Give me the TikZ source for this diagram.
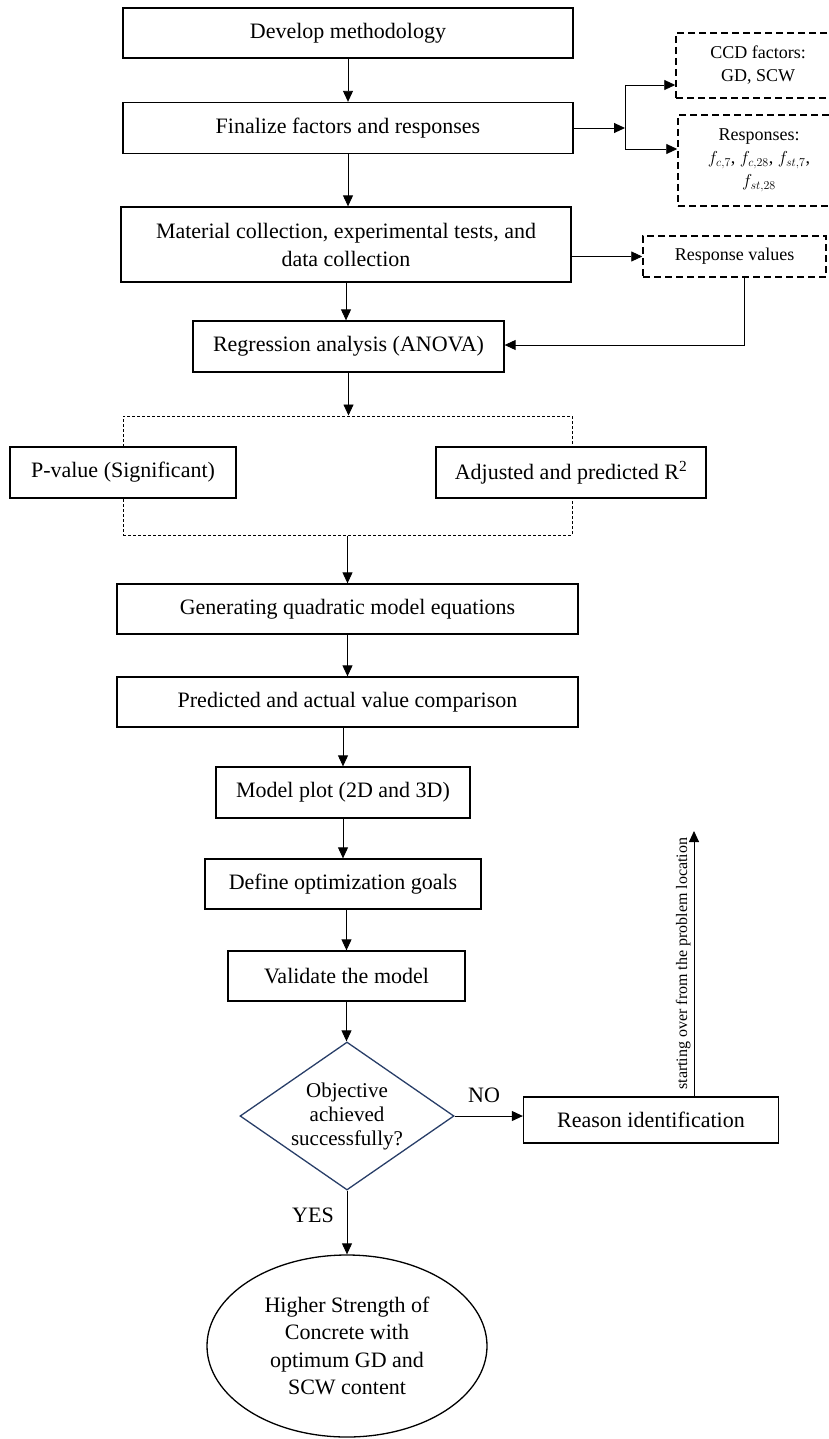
\documentclass[tikz,border=0pt]{standalone}
\usepackage{fontspec}
\setmainfont{Liberation Serif}
\usetikzlibrary{shapes.geometric}
\usetikzlibrary{arrows.meta}
\usepackage{xcolor}

\definecolor{dianavy}{RGB}{40,62,104}

\begin{document}
\begin{tikzpicture}[x=1pt,y=1pt,yscale=-1,xscale=1,
  box/.style={draw, line width=1.3pt, fill=white, minimum width=#1, minimum height=50, inner sep=0pt, align=center, font=\fontsize{22}{28}\selectfont},
  box/.default=450,
  dbox/.style={draw, line width=1.5pt, dash pattern=on 7pt off 4pt, inner sep=0pt, align=center, font=\fontsize{18}{23}\selectfont},
  gbox/.style={draw, line width=1pt, dash pattern=on 3pt off 2pt, inner sep=0pt},
  decision/.style={diamond, draw=dianavy, line width=1.3pt, shape aspect=1.45, minimum width=214, minimum height=148, inner sep=0pt, align=center, font=\fontsize{21}{24}\selectfont},
  goal/.style={ellipse, draw, line width=1.3pt, minimum width=280, minimum height=182, inner sep=0pt, align=center, font=\fontsize{22}{27.3}\selectfont},
  lbl/.style={inner sep=0pt, font=\fontsize{22}{24}\selectfont},
  arr/.style={-{Triangle[length=11pt,width=10pt]}, line width=0.9pt},
  line/.style={line width=0.9pt}
]
%set diagram size to 829 x 1439
\useasboundingbox (0,0) rectangle (829,1439);
\clip (0,0) rectangle (829,1439);

%Shape: Rectangle
\node[box] (dev) at (348,33) {Develop methodology};
%Shape: Rectangle
\node[box, minimum height=51] (fin) at (348,128) {Finalize factors and responses};
%Shape: Dashed Rectangle
\node[dbox, minimum width=164, minimum height=65] (ccd) at (758,65.5) {CCD factors:\\GD, SCW};
%Shape: Dashed Rectangle
\node[dbox, minimum width=162, minimum height=91] (resp) at (759,160.5) {Responses:\\$f_{c,7}$, $f_{c,28}$, $f_{st,7}$,\\$f_{st,28}$};
%Shape: Rectangle
\node[box, minimum height=75] (mat) at (346,244.5) {Material collection, experimental tests, and\\data collection};
%Shape: Dashed Rectangle
\node[dbox, minimum width=183, minimum height=41] (rv) at (734.5,256.5) {Response values};
%Shape: Rectangle
\node[box=311, minimum height=51] (reg) at (348.5,346.5) {Regression analysis (ANOVA)};
%Shape: Dashed Rectangle (group)
\node[gbox, minimum width=449, minimum height=119] (grp) at (347.5,475.5) {};
\node[box=226, minimum height=51] (pval) at (123,472.5) {P-value (Significant)};
\node[box=270, minimum height=51] (adj) at (571,472.5) {Adjusted and predicted R\textsuperscript{2}};
%Shape: Rectangle
\node[box=461] (gen) at (347.5,609) {Generating quadratic model equations};
\node[box=461] (pred) at (347.5,702) {Predicted and actual value comparison};
\node[box=254, minimum height=51] (plot) at (343,792.5) {Model plot (2D and 3D)};
\node[box=276] (goals) at (343,884) {Define optimization goals};
\node[box=237] (valid) at (346.5,976) {Validate the model};
%Shape: Diamond
\node[decision] (obj) at (347,1116) {Objective\\achieved\\successfully?};
%Shape: Rectangle
\node[box=255, minimum height=46] (reason) at (651,1120) {Reason identification};
%Shape: Ellipse
\node[goal] (result) at (347,1346) {Higher Strength of\\Concrete with\\optimum GD and\\SCW content};

% Text Node
\node[lbl] (no) at (484,1095) {NO};
% Text Node
\node[lbl] (yes) at (313,1215) {YES};

%Straight Lines
\coordinate (split) at (625,128);
\coordinate (splittop) at (625,85);
\coordinate (splitbot) at (625,149);
\coordinate (rvturn) at (744,345);
\coordinate (restart) at (694,831);

\draw[arr] (dev.south) -- (fin.north);
\draw[arr] (fin.east) -- (split);
\draw[line] (splittop) -- (splitbot);
\draw[arr] (splittop) -- (splittop -| ccd.west);
\draw[arr] (splitbot) -- (splitbot -| resp.west);
\draw[arr] (fin.south) -- (fin.south |- mat.north);
\draw[arr] (mat.east |- rv.west) -- (rv.west);
\draw[arr] (rvturn |- rv.south) -- (rvturn) -- (rvturn -| reg.east);
\draw[arr] (mat.south) -- (mat.south |- reg.north);
\draw[arr] (reg.south) -- (reg.south |- grp.north);
\draw[arr] (grp.south) -- (grp.south |- gen.north);
\draw[arr] (gen.south) -- (gen.south |- pred.north);
\draw[arr] (pred.south -| plot) -- (plot.north);
\draw[arr] (plot.south) -- (plot.south |- goals.north);
\draw[arr] (goals.south -| valid) -- (valid.north);
\draw[arr] (valid.south) -- (valid.south |- obj.north);
\draw[arr] (obj.east) -- (obj.east -| reason.west);
\draw[arr] (obj.south) -- (result.north);
\draw[arr] (restart |- reason.north) -- node[midway, rotate=90, anchor=south, inner sep=3pt, font=\fontsize{16}{18}\selectfont] (restartlbl) {starting over from the problem location} (restart);

\end{tikzpicture}
\end{document}
